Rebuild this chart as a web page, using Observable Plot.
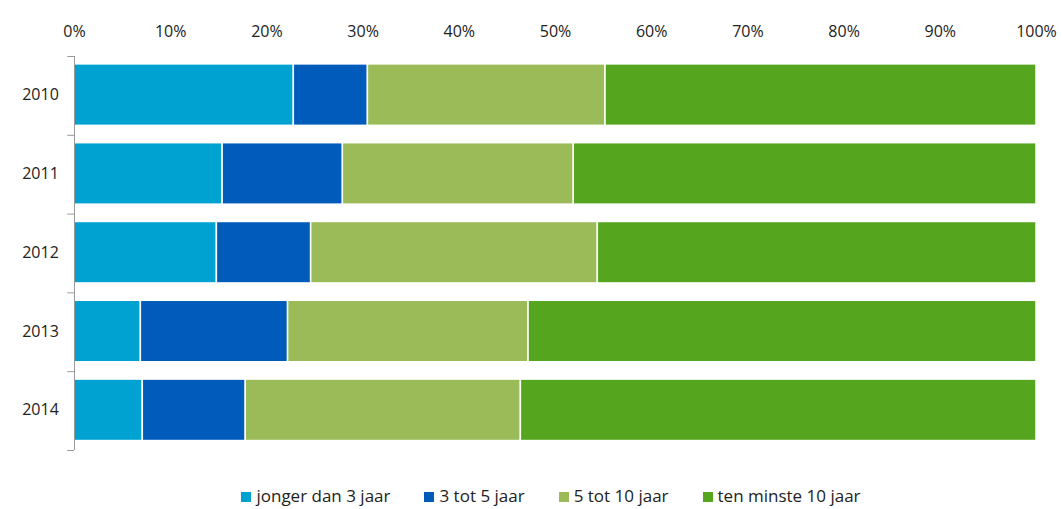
<!DOCTYPE html>
<html>
<head>
<meta charset="utf-8">
<script src="https://cdn.jsdelivr.net/npm/d3@7"></script>
<script src="https://cdn.jsdelivr.net/npm/@observablehq/plot@0.6"></script>
<style>
  body { margin: 0; font-family: "Open Sans", sans-serif; background: #fff; }
  #legend { display: flex; justify-content: center; gap: 34px; font-size: 17px; color: #222; margin-top: 22px; margin-left: 40px; }
  #legend span.sw { display: inline-block; width: 10px; height: 10px; margin-right: 5px; }
</style>
</head>
<body>
<div id="chart"></div>
<div id="legend"></div>
<script>
const years = ["2010", "2011", "2012", "2013", "2014"];
const groups = ["jonger dan 3 jaar", "3 tot 5 jaar", "5 tot 10 jaar", "ten minste 10 jaar"];
const colors = ["#00a2d1", "#005bbb", "#9bbb59", "#55a51f"];
const jonger3 = [22.8, 15.4, 14.8, 6.9, 7.1];
const tot5 = [7.7, 12.5, 9.8, 15.3, 10.7];
const tot10 = [24.7, 24.0, 29.8, 25.0, 28.6];
const minste10 = [44.8, 48.1, 45.6, 52.8, 53.6];
const series = [jonger3, tot5, tot10, minste10];

const rows = [];
years.forEach((yr, i) => {
  let acc = 0;
  series.forEach((s, k) => {
    rows.push({year: yr, i, group: groups[k], x1: acc, x2: acc + s[i]});
    acc += s[i];
  });
});
const boundaries = d3.range(0, years.length + 1);

const chart = Plot.plot({
  width: 1062,
  height: 462,
  marginLeft: 74,
  marginRight: 26,
  marginTop: 56,
  marginBottom: 12,
  style: {fontFamily: "Open Sans, sans-serif", color: "#222"},
  x: {domain: [0, 100], label: null},
  y: {domain: [years.length, 0], axis: null},
  color: {domain: groups, range: colors},
  marks: [
    Plot.axisX({anchor: "top", ticks: d3.range(0, 101, 10), tickFormat: d => d + "%", tickSize: 0, tickPadding: 20, fontSize: 16, label: null}),
    Plot.rect(rows, {x1: "x1", x2: "x2", y1: d => d.i + 0.1, y2: d => d.i + 0.88, fill: "group", stroke: "white", strokeWidth: 1.5}),
    Plot.ruleX([0], {y1: 0, y2: years.length, stroke: "#999"}),
    Plot.ruleY(boundaries, {x1: -0.7, x2: 0, stroke: "#999", clip: false}),
    Plot.text(years, {x: 0, y: (d, i) => i + 0.49, text: d => d, dx: -34, textAnchor: "middle", fontSize: 16, fill: "#222"})
  ]
});
document.getElementById("chart").append(chart);

const legend = d3.select("#legend");
groups.forEach((g, k) => {
  const item = legend.append("div");
  item.append("span").attr("class", "sw").style("background", colors[k]);
  item.append("span").text(g);
});
</script>
</body>
</html>
